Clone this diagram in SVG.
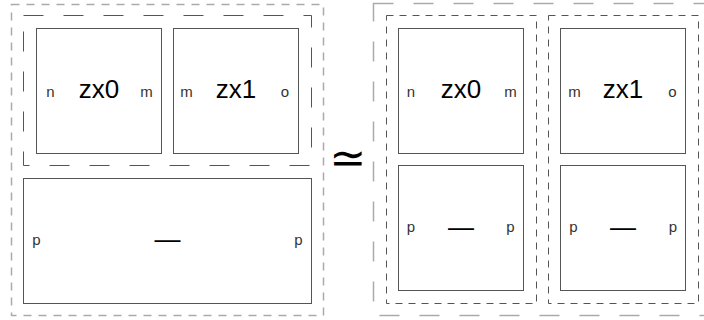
<svg xmlns="http://www.w3.org/2000/svg" width="704" height="320" viewBox="0 0 704 320">
<style>
.bg{fill:#fff}
.box{fill:#fff;stroke:#555;stroke-width:1}
.outerS{fill:none;stroke:#aaa;stroke-width:1.5;stroke-dasharray:8 7}
.outerL{fill:none;stroke:#aaa;stroke-width:1.5;stroke-dasharray:20 20}
.innerL{fill:none;stroke:#555;stroke-width:1;stroke-dasharray:20 20}
.innerS{fill:none;stroke:#555;stroke-width:1;stroke-dasharray:7 6}
text{font-family:'Liberation Sans',Arial,Helvetica,sans-serif}
.big{font-size:26px;fill:#000;text-anchor:middle}
.port{font-size:15px;fill:#333;text-anchor:middle}
.sym{font-family:'DejaVu Sans',sans-serif;font-size:44px;fill:#000;text-anchor:middle}
</style>
<rect class="bg" x="0" y="0" width="704" height="320"/>
<g id="left">
  <rect class="outerS" x="11.5" y="4.5" width="312" height="311"/>
  <rect class="innerL" x="23.5" y="15.5" width="288" height="150"/>
  <g id="L-zx0">
    <rect class="box" x="36.5" y="28.5" width="125" height="125"/>
    <text class="port" x="50.5" y="97">n</text>
    <text class="big" x="99" y="98">zx0</text>
    <text class="port" x="146.5" y="97">m</text>
  </g>
  <g id="L-zx1">
    <rect class="box" x="173.5" y="28.5" width="125" height="125"/>
    <text class="port" x="186.5" y="97">m</text>
    <text class="big" x="236" y="98">zx1</text>
    <text class="port" x="285" y="97">o</text>
  </g>
  <g id="L-id">
    <rect class="box" x="23.5" y="178.5" width="288" height="125"/>
    <text class="port" x="36.5" y="245">p</text>
    <text class="big" x="167.5" y="248">—</text>
    <text class="port" x="298.5" y="245">p</text>
  </g>
</g>
<g id="equiv">
  <text class="sym" x="348" y="173">≃</text>
</g>
<g id="right">
  <rect class="outerL" x="373.5" y="3.5" width="337" height="312"/>
  <rect class="innerS" x="386.5" y="15.5" width="150" height="288"/>
  <rect class="innerS" x="548.5" y="15.5" width="150" height="288"/>
  <g id="R-zx0">
    <rect class="box" x="398.5" y="28.5" width="125" height="125"/>
    <text class="port" x="411" y="97">n</text>
    <text class="big" x="461" y="98">zx0</text>
    <text class="port" x="510.5" y="97">m</text>
  </g>
  <g id="R-zx1">
    <rect class="box" x="560.5" y="28.5" width="125" height="125"/>
    <text class="port" x="574.5" y="97">m</text>
    <text class="big" x="623" y="98">zx1</text>
    <text class="port" x="672.5" y="97">o</text>
  </g>
  <g id="R-id0">
    <rect class="box" x="398.5" y="165.5" width="125" height="125"/>
    <text class="port" x="411" y="232">p</text>
    <text class="big" x="461" y="235.5">—</text>
    <text class="port" x="510.5" y="232">p</text>
  </g>
  <g id="R-id1">
    <rect class="box" x="560.5" y="165.5" width="125" height="125"/>
    <text class="port" x="573.5" y="232">p</text>
    <text class="big" x="623" y="235.5">—</text>
    <text class="port" x="673" y="232">p</text>
  </g>
</g>
<g id="connectors"/>
</svg>
